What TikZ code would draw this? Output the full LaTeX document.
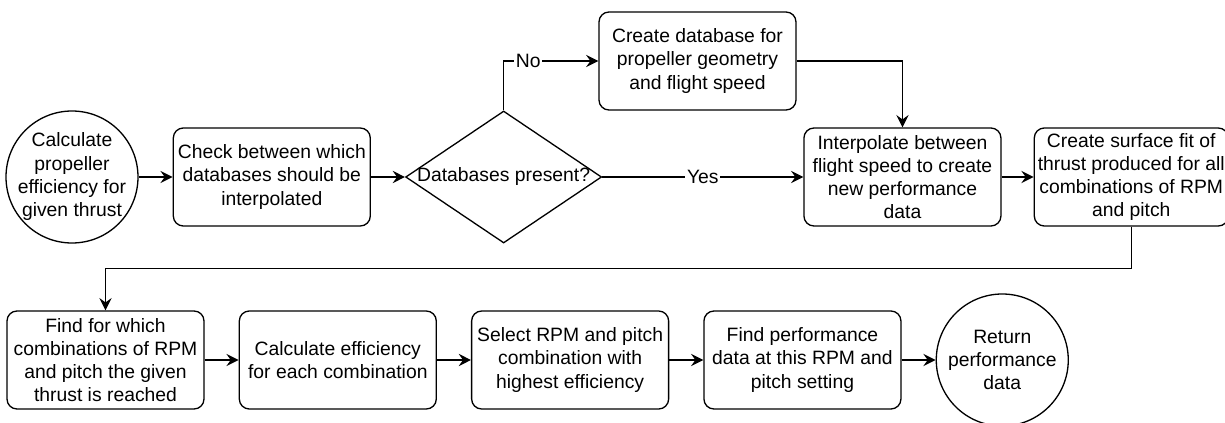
\documentclass[tikz,border=0pt]{standalone}
\usepackage{fontspec}
\setmainfont{Liberation Sans}
\usepackage{tikz}
\usetikzlibrary{shapes.geometric,arrows.meta,positioning}

\newcommand{\fixedlines}[1]{\makebox[0pt]{\smash{\raisebox{-0.25em}{\begin{tabular}{@{}c@{}}#1\end{tabular}}}}}

\begin{document}
\begin{tikzpicture}[
  stepbox/.style={rectangle, draw, rounded corners=0.2cm, minimum width=3.94cm, minimum height=1.96cm, align=center, inner sep=2pt, font=\fontsize{11}{13.2}\selectfont},
  term/.style={circle, draw, minimum size=2.64cm, inner sep=0pt, align=center, font=\fontsize{11}{13.2}\selectfont},
  decision/.style={diamond, draw, minimum width=3.92cm, minimum height=2.64cm, inner sep=0pt, font=\fontsize{11}{13.2}\selectfont},
  lbl/.style={fill=white, inner sep=1pt, font=\fontsize{11}{13.2}\selectfont},
  arrow/.style={-{Stealth[length=7pt,width=7pt,inset=2.5pt]}},
  line width=0.75pt,
  node distance=0.68cm
]
  \useasboundingbox (0,0) rectangle (24.5,-8.46);

  \node[term] (start) at (1.44,-3.54) {\fixedlines{Calculate\\propeller\\efficiency for\\given thrust}};
  \node[stepbox, right=of start] (check) {Check between which\\databases should be\\interpolated};
  \node[decision, right=of check] (dbs) {\makebox[0pt]{Databases present?}};
  \node[stepbox] (create) at (13.95,-1.22) {Create database for\\propeller geometry\\and flight speed};
  \node[stepbox, right=4.02cm of dbs] (interp) {Interpolate between\\flight speed to create\\new performance\\data};
  \node[stepbox, minimum width=3.86cm, right=0.64cm of interp] (surface) {Create surface fit of\\thrust produced for all\\combinations of RPM\\and pitch};

  \node[stepbox] (find) at (2.11,-7.2) {Find for which\\combinations of RPM\\and pitch the given\\thrust is reached};
  \node[stepbox, right=of find] (calc) {Calculate efficiency\\for each combination};
  \node[stepbox, right=of calc] (select) {Select RPM and pitch\\combination with\\highest efficiency};
  \node[stepbox, right=of select] (perf) {Find performance\\data at this RPM and\\pitch setting};
  \node[term, right=of perf] (return) {Return\\performance\\data};

  \draw[arrow] (start) -- (check);
  \draw[arrow] (check) -- (dbs);
  \draw[arrow] (dbs.north) |- node[lbl, pos=0.63] {No} (create.west);
  \draw[arrow] (dbs) -- node[lbl] {Yes} (interp);
  \draw[arrow] (create.east) -| (interp.north);
  \draw[arrow] (interp) -- (surface);
  \draw[arrow] (surface.south) -- ++(0,-0.84) -| (find.north);
  \draw[arrow] (find) -- (calc);
  \draw[arrow] (calc) -- (select);
  \draw[arrow] (select) -- (perf);
  \draw[arrow] (perf) -- (return);
\end{tikzpicture}
\end{document}
